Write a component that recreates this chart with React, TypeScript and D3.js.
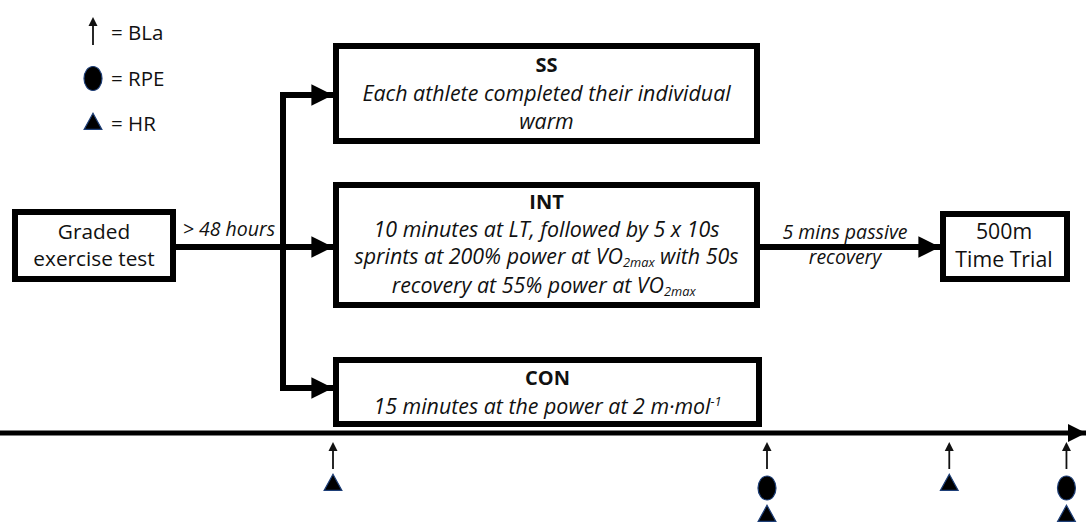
import React from "react";
import * as d3 from "d3";

const W = 1086;
const H = 524;
const FONT = "'Open Sans', Lato, sans-serif";

const legendItems = [
  { type: "arrow", label: "= BLa" },
  { type: "ellipse", label: "= RPE" },
  { type: "triangle", label: "= HR" },
];

const arms = [
  { title: "SS", lines: ["Each athlete completed their individual", "warm"] },
  {
    title: "INT",
    lines: [
      "10 minutes at LT, followed by 5 x 10s",
      "sprints at 200% power at VO|2max| with 50s",
      "recovery at 55% power at VO|2max|",
    ],
  },
  { title: "CON", lines: ["15 minutes at the power at 2 m·mol^-1"] },
];

const startLabel = ["Graded", "exercise test"];
const gapLabel = "> 48 hours";
const recoveryLabel = ["5 mins passive", "recovery"];
const endLabel = ["500m", "Time Trial"];

// measurement timepoints along the timeline
const timepoints = [
  { t: 0, marks: ["arrow", "triangle"] },
  { t: 1, marks: ["arrow", "ellipse", "triangle"] },
  { t: 1.42, marks: ["arrow", "triangle"] },
  { t: 1.69, marks: ["arrow", "ellipse", "triangle"] },
];

const xTime = d3.scaleLinear().domain([0, 1]).range([333, 767]);

function RichLine({ text, x, y, size }: { text: string; x: number; y: number; size: number }) {
  const parts: React.ReactNode[] = [];
  if (text.includes("^")) {
    const [a, b] = text.split("^");
    parts.push(<tspan key="a">{a}</tspan>);
    parts.push(
      <tspan key="b" dy={-8} fontSize={size * 0.6}>
        {b}
      </tspan>
    );
  } else {
    const segs = text.split("|");
    segs.forEach((s, i) => {
      if (i % 2 === 1) {
        parts.push(
          <tspan key={i} dy={3} fontSize={size * 0.6}>
            {s}
          </tspan>
        );
      } else {
        parts.push(
          <tspan key={i} dy={i > 0 ? -3 : 0}>
            {i > 0 ? "\u00a0" + s.trimStart() : s}
          </tspan>
        );
      }
    });
  }
  return (
    <text x={x} y={y} textAnchor="middle" fontSize={size} fontStyle="italic" fill="#111" fontFamily={FONT}>
      {parts}
    </text>
  );
}

function Marker({ type, x, y, len = 27 }: { type: string; x: number; y: number; len?: number }) {
  if (type === "arrow") {
    return (
      <g>
        <line x1={x} y1={y + len} x2={x} y2={y + 6} stroke="#111" strokeWidth={1.8} />
        <path d={`M${x - 4.5},${y + 9} L${x},${y} L${x + 4.5},${y + 9} Z`} fill="#111" />
      </g>
    );
  }
  if (type === "ellipse") {
    return <ellipse cx={x} cy={y + 12} rx={9} ry={12} fill="#000" stroke="#1e3f78" strokeWidth={1.2} />;
  }
  const tri = d3.symbol().type(d3.symbolTriangle).size(135)();
  return <path d={tri as string} transform={`translate(${x},${y + 9}) scale(1,1.05)`} fill="#000" stroke="#1e3f78" strokeWidth={1.2} />;
}

export default function App() {
  const boxStroke = 6;
  const armBoxes = [
    { x: 336, y: 46, w: 421, h: 95 },
    { x: 336, y: 185, w: 421, h: 120 },
    { x: 336, y: 360, w: 423, h: 64 },
  ];
  const branchX = 283;
  const armArrowY = [95, 247, 388];
  const timelineY = 433;

  return (
    <svg width={W} height={H} style={{ display: "block", position: "absolute", left: 0, top: 0 }}>
      <rect width={W} height={H} fill="#fff" />
      <defs>
        <marker id="ah" viewBox="0 0 10 10" refX="10" refY="5" markerWidth="3.6" markerHeight="3.6" markerUnits="strokeWidth" orient="auto">
          <path d="M0,0 L10,5 L0,10 Z" fill="#000" />
        </marker>
      </defs>

      {/* legend */}
      {legendItems.map((d, i) => {
        const cy = 33 + i * 45.5;
        return (
          <g key={d.label}>
            <Marker type={d.type} x={93} len={28} y={d.type === "arrow" ? cy - 16 : d.type === "ellipse" ? cy - 12 : cy - 9} />
            <text x={111} y={cy + 7} fontSize={20.5} fontFamily={FONT} fill="#111">
              {d.label}
            </text>
          </g>
        );
      })}

      {/* start box */}
      <rect x={15} y={212} width={158} height={67} fill="#fff" stroke="#000" strokeWidth={boxStroke} />
      {startLabel.map((s, i) => (
        <text key={s} x={94} y={239 + i * 27} textAnchor="middle" fontSize={20.8} fontFamily={FONT} fill="#111">
          {s}
        </text>
      ))}
      <line x1={176} y1={247} x2={branchX} y2={247} stroke="#000" strokeWidth={6} />
      <text x={229} y={236} textAnchor="middle" fontSize={19.5} fontStyle="italic" fontFamily={FONT} fill="#111">
        {gapLabel}
      </text>

      {/* branch */}
      <line x1={branchX} y1={armArrowY[0] - 3} x2={branchX} y2={armArrowY[2] + 3} stroke="#000" strokeWidth={6} />
      {armArrowY.map((y, i) => (
        <line key={i} x1={branchX - 3} y1={y} x2={333} y2={y} stroke="#000" strokeWidth={6} markerEnd="url(#ah)" />
      ))}

      {/* arm boxes */}
      {arms.map((a, i) => {
        const b = armBoxes[i];
        const cx = b.x + b.w / 2;
        const first = i === 0 ? b.y + 26 : i === 1 ? b.y + 24 : b.y + 25;
        const step = i === 1 ? 27.6 : 28.5;
        return (
          <g key={a.title}>
            <rect x={b.x} y={b.y} width={b.w} height={b.h} fill="#fff" stroke="#000" strokeWidth={boxStroke} />
            <text x={cx} y={first} textAnchor="middle" fontSize={20} fontWeight="bold" fontFamily={FONT} fill="#111">
              {a.title}
            </text>
            {a.lines.map((l, j) => (
              <RichLine key={j} text={l} x={cx} y={first + (j + 1) * step + (i === 1 && j === 2 ? 1 : 0)} size={21.4} />
            ))}
          </g>
        );
      })}

      {/* INT -> Time trial */}
      <line x1={760} y1={247} x2={940} y2={247} stroke="#000" strokeWidth={6} markerEnd="url(#ah)" />
      <text x={845} y={239} textAnchor="middle" fontSize={19.5} fontStyle="italic" fontFamily={FONT} fill="#111">
        {recoveryLabel[0]}
      </text>
      <text x={845} y={264} textAnchor="middle" fontSize={19.5} fontStyle="italic" fontFamily={FONT} fill="#111">
        {recoveryLabel[1]}
      </text>

      <rect x={943} y={214} width={124} height={65} fill="#fff" stroke="#000" strokeWidth={boxStroke} />
      {endLabel.map((s, i) => (
        <text key={s} x={1004} y={239 + i * 27.5} textAnchor="middle" fontSize={21.3} fontFamily={FONT} fill="#111">
          {s}
        </text>
      ))}

      {/* timeline */}
      <line x1={0} y1={timelineY} x2={1086} y2={timelineY} stroke="#000" strokeWidth={5} markerEnd="url(#ah)" />

      {/* measurement markers */}
      {timepoints.map((tp, i) => {
        const x = xTime(tp.t);
        let y = 442;
        const out: React.ReactNode[] = [];
        tp.marks.forEach((m, j) => {
          out.push(<Marker key={j} type={m} x={x} y={y} />);
          if (m === "arrow") y += 34;
          else if (m === "ellipse") y += 31;
        });
        return <g key={i}>{out}</g>;
      })}
    </svg>
  );
}
